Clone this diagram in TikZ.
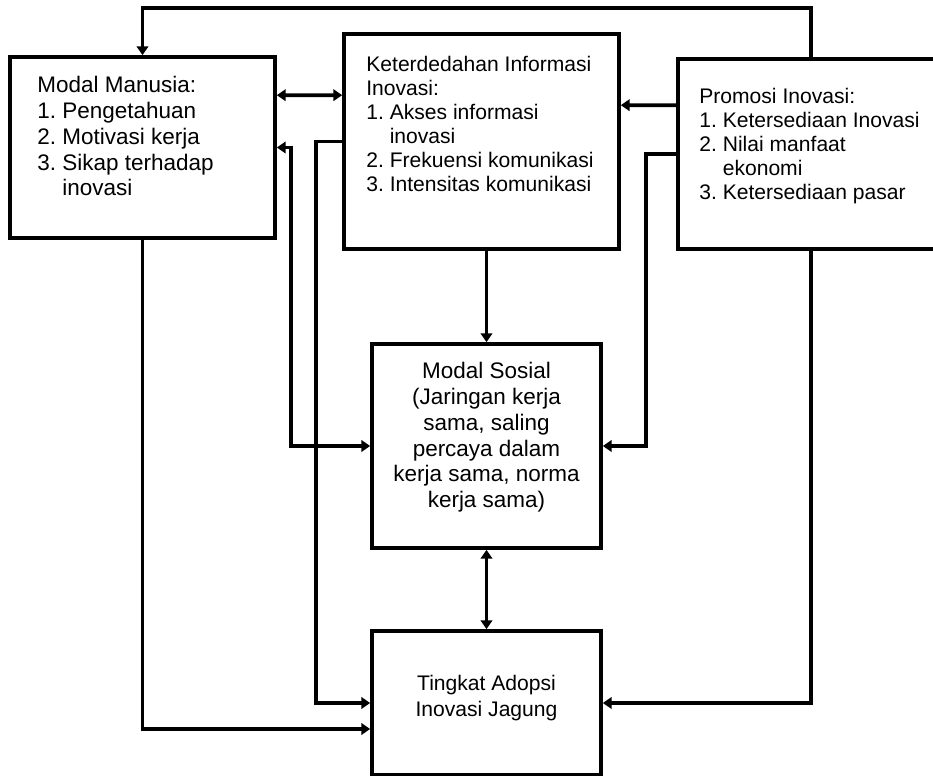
\documentclass[tikz,border=0pt]{standalone}
\usepackage{fontspec}
\setmainfont{Liberation Sans}
\usetikzlibrary{arrows.meta, calc}
\frenchspacing

\begin{document}
\begin{tikzpicture}[
    x=0.02cm, y=-0.02cm,
    box/.style={draw, line width=2.1pt, inner sep=0pt},
    txt/.style={inner sep=0pt, align=left},
    big/.style={font=\fontsize{12.8}{14.7}\selectfont},
    small/.style={font=\fontsize{12}{13.7}\selectfont},
    arr/.style={line width=2.1pt, -{Triangle[length=5pt,width=6.5pt]}},
    dbl/.style={line width=2.1pt, {Triangle[length=5pt,width=6.5pt]}-{Triangle[length=5pt,width=6.5pt]}},
    ]
    \useasboundingbox (0,0) rectangle (933,776);

    % boxes
    \node[box, minimum width=5.3cm, minimum height=3.62cm] (mm) at (142.5,147.5) {};
    \node[box, minimum width=5.5cm, minimum height=4.3cm] (ki) at (481.5,141.5) {};
    \node[box, minimum width=5.32cm, minimum height=3.8cm] (pi) at (811,154) {};
    \node[box, minimum width=4.58cm, minimum height=4.08cm] (ms) at (486.5,446) {};
    \node[box, minimum width=4.58cm, minimum height=2.88cm] (ta) at (486.5,703) {};

    % texts
    \node[txt, big, anchor=north west] (mmtext) at (37,76)
        {Modal Manusia:\\1. Pengetahuan\\2. Motivasi kerja\\3. Sikap terhadap\\\hphantom{3.}\ inovasi};
    \node[txt, small, anchor=north west] (kitext) at (366,56)
        {Keterdedahan Informasi\\Inovasi:\\1. Akses informasi\\\hphantom{1.}\ inovasi\\2. Frekuensi komunikasi\\3. Intensitas komunikasi};
    \node[txt, small, anchor=north west] (pitext) at (699,88)
        {Promosi Inovasi:\\1. Ketersediaan Inovasi\\2. Nilai manfaat\\\hphantom{2.}\ ekonomi\\3. Ketersediaan pasar};
    \node[txt, big, align=center, anchor=north] (mstext) at (486.5,362)
        {Modal Sosial\\(Jaringan kerja\\sama, saling\\percaya dalam\\kerja sama, norma\\kerja sama)};
    \node[txt, align=center, anchor=north, font=\fontsize{12}{14.7}\selectfont] (tatext) at (486.5,675)
        {Tingkat Adopsi\\Inovasi Jagung};

    % connectors
    \coordinate (top) at (0,8);
    \draw[arr] (pi.north) -- (pi.north |- top) -| (mm.north);
    \draw[dbl] ($(mm.north east)+(0,40)$) -- ($(ki.north west)+(0,63)$);
    \draw[arr] ($(pi.north west)+(0,48)$) -- ($(ki.north east)+(0,73)$);
    \draw[dbl] (ms.west) -- ++(-79,0) |- (mm.east);
    \draw[arr] (ki.west) -- ++(-26,0) |- (ta.west);
    \draw[arr] (pi.west) -- ++(-30,0) |- (ms.east);
    \draw[arr] (ki.south -| ms.north) -- (ms.north);
    \draw[dbl] (ms.south) -- (ta.north);
    \draw[arr] (mm.south) |- ($(ta.west)+(0,26)$);
    \draw[arr] (pi.south) |- (ta.east);
\end{tikzpicture}
\end{document}
